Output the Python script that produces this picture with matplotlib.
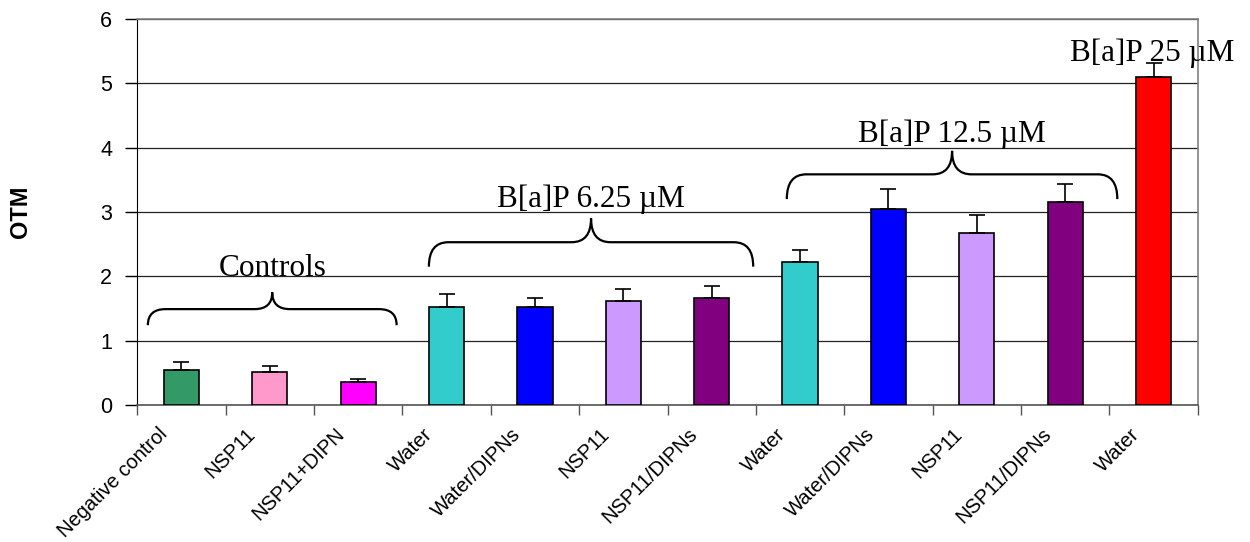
import numpy as np
import matplotlib
matplotlib.use('Agg')
import matplotlib.pyplot as plt
from matplotlib.path import Path
from matplotlib.patches import PathPatch
from matplotlib.transforms import ScaledTranslation

# data
labels = ['Negative control', 'NSP11', 'NSP11+DIPN',
          'Water', 'Water/DIPNs', 'NSP11', 'NSP11/DIPNs',
          'Water', 'Water/DIPNs', 'NSP11', 'NSP11/DIPNs',
          'Water']
values = [0.54, 0.51, 0.36, 1.52, 1.52, 1.62, 1.67, 2.23, 3.05, 2.67, 3.16, 5.10]
errors = [0.13, 0.09, 0.05, 0.20, 0.15, 0.18, 0.18, 0.18, 0.31, 0.28, 0.28, 0.22]
colors = ['#339966', '#FF99CC', '#FF00FF',
          '#33CCCC', '#0000FF', '#CC99FF', '#800080',
          '#33CCCC', '#0000FF', '#CC99FF', '#800080',
          '#FF0000']
groups = ['Controls', 'B[a]P 6.25 \u00b5M', 'B[a]P 12.5 \u00b5M', 'B[a]P 25 \u00b5M']

serif = 'Liberation Serif'
sans = 'Liberation Sans'

fig = plt.figure(figsize=(12.5, 5.42), dpi=100)
ax = fig.add_axes([0.1098, 0.2528, 0.8484, 0.7122])

x = np.arange(len(values))
ax.bar(x, values, width=0.40, color=colors, edgecolor='black', linewidth=1.2, zorder=3)
ax.errorbar(x, values, yerr=[np.zeros(len(errors)), errors], fmt='none',
            ecolor='black', elinewidth=1.2, capsize=6, capthick=1.2, zorder=4)

ax.set_xlim(-0.5, len(values) - 0.5)
ax.set_ylim(0, 6)
ax.set_yticks(range(7))
ax.yaxis.grid(True, color='#222222', linewidth=0.9, zorder=0)
ax.set_axisbelow(True)

for s in ['top', 'right']:
    ax.spines[s].set_color('#808080')
    ax.spines[s].set_linewidth(1.2)
ax.spines['left'].set_color('black')
ax.spines['bottom'].set_color('#555555')
ax.spines['bottom'].set_linewidth(1.2)

ax.tick_params(axis='y', direction='out', length=9, width=1, labelsize=15.5, pad=9)
for t in ax.get_yticklabels():
    t.set_fontfamily(sans)

# ticks at category boundaries, labels under the bars
ax.set_xticks(np.arange(-0.5, len(values), 1))
ax.set_xticklabels([])
ax.tick_params(axis='x', which='major', direction='out', length=7, width=1, color='#555555')
ax.set_xticks(x, minor=True)
ax.set_xticklabels(labels, minor=True, rotation=45, ha='right', va='center',
                   rotation_mode='anchor', fontsize=14.5, fontfamily=sans)
ax.tick_params(axis='x', which='minor', length=0, pad=19)
for t in ax.get_xticklabels(minor=True):
    t.set_transform(t.get_transform() + ScaledTranslation(-0.17, 0, fig.dpi_scale_trans))

fig.text(20 / 1250, 1 - 212 / 542, 'OTM', rotation=90, fontsize=17, fontweight='bold',
         fontfamily=sans, ha='center', va='center')


def brace(x0, x1, yb, yh, yp, rx):
    xm = (x0 + x1) / 2
    verts = [(x0, yb), (x0, yh), (x0 + rx, yh),
             (xm - rx, yh), (xm, yh), (xm, yp),
             (xm, yh), (xm + rx, yh),
             (x1 - rx, yh), (x1, yh), (x1, yb)]
    codes = [Path.MOVETO, Path.CURVE3, Path.CURVE3,
             Path.LINETO, Path.CURVE3, Path.CURVE3,
             Path.CURVE3, Path.CURVE3,
             Path.LINETO, Path.CURVE3, Path.CURVE3]
    ax.add_patch(PathPatch(Path(verts, codes), fill=False, lw=1.6,
                           edgecolor='black', zorder=5, clip_on=False))
    return xm


xm = brace(-0.38, 2.435, 1.24, 1.49, 1.75, 0.2)
ax.text(xm, 2.0, groups[0], ha='center', va='baseline', fontsize=22.5, fontfamily=serif, zorder=6)
xm = brace(2.80, 6.47, 2.15, 2.53, 2.90, 0.22)
ax.text(xm, 3.08, groups[1], ha='center', va='baseline', fontsize=22.5, fontfamily=serif, zorder=6)
xm = brace(6.85, 10.59, 3.20, 3.585, 3.95, 0.22)
ax.text(xm, 4.09, groups[2], ha='center', va='baseline', fontsize=22.5, fontfamily=serif, zorder=6)
ax.text(10.98, 5.34, groups[3], ha='center', va='baseline', fontsize=22.5, fontfamily=serif,
        zorder=6, clip_on=False)

fig.savefig('out.png', dpi=100)
